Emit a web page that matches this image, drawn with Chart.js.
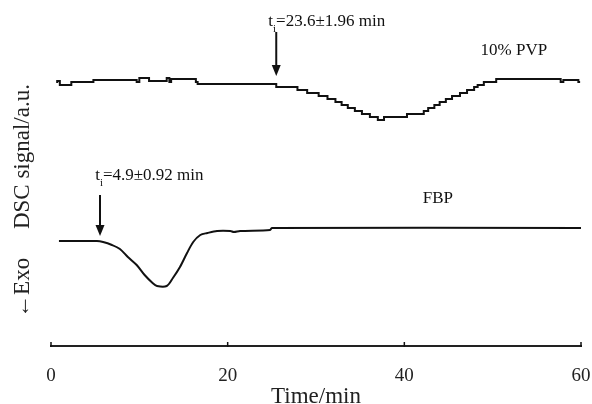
<!DOCTYPE html>
<html>
<head>
<meta charset="utf-8">
<script src="https://cdn.jsdelivr.net/npm/chart.js@4/dist/chart.umd.min.js"></script>
<style>
  html, body { margin: 0; padding: 0; background: #fff; }
  canvas { display: block; }
</style>
</head>
<body>
<canvas id="chart" width="592" height="404"></canvas>
<script>
// 10% PVP trace: step starts (time in min, signal in a.u.)
const pvpTime = [0.7, 1.0, 2.3, 4.8, 9.7, 10.0, 11.1, 13.1, 13.4, 13.6, 16.4, 16.6, 25.5, 27.9, 29.0, 30.3,
  31.3, 32.2, 32.9, 33.6, 34.4, 35.2, 36.1, 37.0, 37.7, 40.3, 42.2, 42.7, 43.4, 44.0, 44.7, 45.4,
  46.3, 47.1, 47.9, 48.3, 49.0, 50.4, 57.7, 58.0, 59.7, 59.9];
const pvpSignal = [263, 265, 261, 264, 266, 264, 268, 265, 268, 264, 267, 264, 262, 259, 256, 253,
  250, 247, 244, 241, 238, 235, 232, 229, 226, 229, 232, 235, 238, 241, 244, 247,
  250, 253, 256, 259, 261, 264, 267, 264, 266, 264];

// FBP trace
const fbpTime = [0.9, 5.2, 5.9, 6.9, 7.8, 8.7, 9.7, 10.6, 11.5, 12.0, 13.1, 13.8, 14.6, 15.4, 16.1,
  16.9, 17.7, 18.8, 20.3, 20.7, 21.4, 24.8, 25.0, 60];
const fbpSignal = [105, 105, 104, 101, 97, 89, 81, 71, 63, 60, 60, 68, 79, 93, 104,
  111, 113, 115, 115, 114, 115, 116, 118, 118];

const xTicks = [0, 20, 40, 60];
const pvpName = '10% PVP';
const fbpName = 'FBP';
const pvpOnset = '=23.6±1.96 min';
const fbpOnset = '=4.9±0.92 min';

const serif = '"Liberation Serif", "Times New Roman", serif';
const ink = '#111';

const pts = (xs, ys) => xs.map((v, i) => ({ x: v, y: ys[i] }));

function arrow(ctx, x, y0, y1) {
  ctx.lineWidth = 2;
  ctx.beginPath();
  ctx.moveTo(x, y0);
  ctx.lineTo(x, y1 - 8);
  ctx.stroke();
  ctx.beginPath();
  ctx.moveTo(x - 4.5, y1 - 11);
  ctx.lineTo(x + 4.5, y1 - 11);
  ctx.lineTo(x, y1);
  ctx.closePath();
  ctx.fill();
}

function onset(ctx, rest, x, y) {
  ctx.textAlign = 'left';
  ctx.textBaseline = 'middle';
  ctx.font = '17px ' + serif;
  ctx.fillText('t', x, y);
  const tw = ctx.measureText('t').width;
  ctx.font = '11px ' + serif;
  ctx.fillText('i', x + tw, y + 7);
  const iw = ctx.measureText('i').width;
  ctx.font = '17px ' + serif;
  ctx.fillText(rest, x + tw + iw, y);
}

const notes = {
  id: 'notes',
  afterDraw(chart) {
    const { ctx, scales: { x, y } } = chart;
    const px = v => x.getPixelForValue(v);
    const py = v => y.getPixelForValue(v);
    ctx.save();
    ctx.fillStyle = ink;
    ctx.strokeStyle = ink;

    // little tick marks on the time axis
    ctx.lineWidth = 1.5;
    xTicks.forEach(t => {
      ctx.beginPath();
      ctx.moveTo(px(t), y.bottom - 4);
      ctx.lineTo(px(t), y.bottom + 1);
      ctx.stroke();
    });

    arrow(ctx, px(25.5), py(314), py(270));
    arrow(ctx, px(5.55), py(151), py(110));

    onset(ctx, pvpOnset, px(24.6), py(324));
    onset(ctx, fbpOnset, px(5.0), py(170));

    ctx.font = '17px ' + serif;
    ctx.textAlign = 'center';
    ctx.textBaseline = 'middle';
    ctx.fillText(pvpName, px(52.4), py(295));
    ctx.fillText(fbpName, px(43.8), py(147));
    ctx.restore();
  }
};

new Chart(document.getElementById('chart'), {
  type: 'line',
  data: {
    datasets: [
      { data: pts(pvpTime, pvpSignal), stepped: 'after', borderColor: ink, borderWidth: 2,
        pointRadius: 0, fill: false },
      { data: pts(fbpTime, fbpSignal), borderColor: ink, borderWidth: 2, tension: 0.3,
        pointRadius: 0, fill: false }
    ]
  },
  options: {
    responsive: false,
    animation: false,
    layout: { padding: { top: 56, right: 0, left: 0, bottom: 0 } },
    plugins: { legend: { display: false }, tooltip: { enabled: false } },
    scales: {
      x: {
        type: 'linear', min: 0, max: 60,
        afterBuildTicks: s => { s.ticks = xTicks.map(v => ({ value: v })); },
        ticks: { font: { family: serif, size: 19 }, color: '#222', padding: 11 },
        grid: { display: false },
        border: { display: true, color: '#222', width: 2 },
        title: { display: true, text: 'Time/min', color: '#222',
          font: { family: serif, size: 23, lineHeight: 1 }, padding: { top: 0, bottom: -4 } },
        afterFit: s => { s.height = 58; s.paddingLeft = 0; s.paddingRight = 11; }
      },
      y: {
        min: 0, max: 290,
        ticks: { display: false },
        grid: { display: false },
        border: { display: false },
        title: { display: true, text: '←Exo     DSC signal/a.u.', color: '#222',
          font: { family: serif, size: 23, lineHeight: 1 }, padding: { top: 11, bottom: 0 } },
        afterFit: s => { s.width = 51; }
      }
    }
  },
  plugins: [notes]
});
</script>
</body>
</html>
